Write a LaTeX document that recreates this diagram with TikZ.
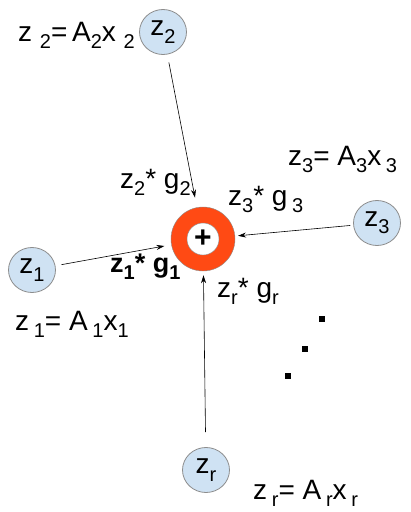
\documentclass[tikz,border=0pt]{standalone}
\usepackage{fontspec}
\setmainfont{Liberation Sans}
\usetikzlibrary{arrows.meta,shapes.geometric}
\newcommand{\lsb}[1]{\raisebox{-0.26em}{\fontsize{20}{20}\selectfont #1}}
\definecolor{bubble}{HTML}{CFE2F3}
\definecolor{ringcol}{HTML}{FF4A14}
\tikzset{
  zin/.style={ellipse,draw=black!45,fill=bubble,line width=0.8pt,minimum width=47pt,minimum height=45pt,inner sep=0pt,font=\fontsize{28}{30}\selectfont},
  lab/.style={anchor=base west,inner sep=0pt,font=\fontsize{28}{30}\selectfont},
  arr/.style={-{Stealth[length=8pt,width=5pt]},line width=0.6pt},
  dot/.style={fill=black,minimum size=6pt,inner sep=0pt,rectangle}
}
\begin{document}
\begin{tikzpicture}[x=1pt,y=1pt]
\useasboundingbox (0,0) rectangle (411,-512);
% summing node
\node[circle,draw=black!45,fill=ringcol,minimum size=64pt,inner sep=0pt] (sum) at (203,-239) {};
\node[circle,draw=black!45,fill=white,minimum size=32pt,inner sep=0pt,font=\fontsize{30}{30}\selectfont\bfseries] (plus) at (203,-239) {+};
% inputs
\node[zin] (z2) at (163,-32) {z\lsb{2}};
\node[zin] (z3) at (377,-223) {z\lsb{3}};
\node[zin] (z1) at (32,-270) {z\lsb{1}};
\node[zin] (zr) at (206,-470) {z\lsb{r}};
% arrows
\draw[arr,shorten <=8pt,shorten >=10pt] (z2) -- (sum);
\draw[arr,shorten <=3pt,shorten >=3pt] (z3) -- (sum);
\draw[arr,shorten <=6pt,shorten >=7pt] (z1) -- (sum);
\draw[arr,shorten <=15pt,shorten >=4pt] (zr) -- (sum);
% labels
\node[lab] (l2) at (18,-41) {z\;\lsb{2}=\,A\lsb{2}x\;\lsb{2}};
\node[lab] (g2) at (120,-188) {z\lsb{2}* g\lsb{2}};
\node[lab] (g3) at (228,-205) {z\lsb{3}* g\,\lsb{3}};
\node[lab] (l3) at (288,-165) {z\lsb{3}= A\lsb{3}x\,\lsb{3}};
\node[lab,font=\fontsize{27}{30}\selectfont\bfseries] (g1) at (110,-272) {z\lsb{1}* g\lsb{1}};
\node[lab] (gr) at (217,-297) {z\lsb{r}* g\lsb{r}};
\node[lab] (l1) at (15,-330) {z\,\lsb{1}= A\,\lsb{1}x\lsb{1}};
\node[lab] (lr) at (253,-499) {z\,\lsb{r}= A\,\lsb{r}x\,\lsb{r}};
% dots
\node[dot] (d1) at (322,-319) {};
\node[dot] (d2) at (305,-349) {};
\node[dot] (d3) at (288,-376) {};
\end{tikzpicture}
\end{document}
